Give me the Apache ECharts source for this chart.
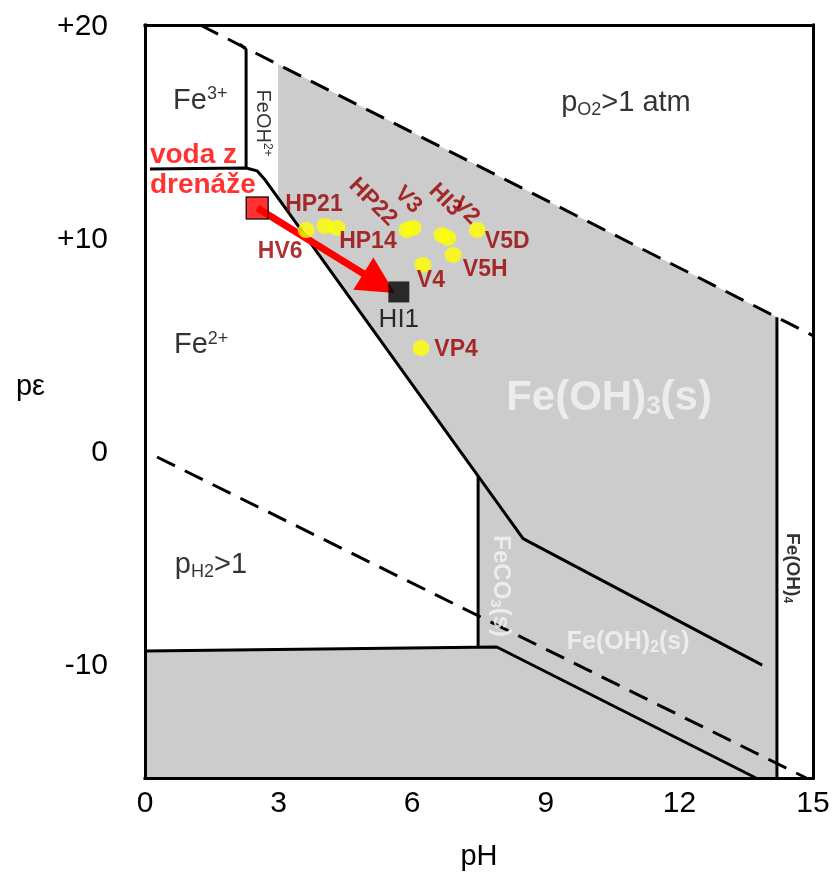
<!DOCTYPE html>
<html>
<head>
<meta charset="utf-8">
<title>Fe pe-pH</title>
<script src="https://cdn.jsdelivr.net/npm/echarts@6/dist/echarts.min.js"></script>
<style>
  html, body { margin: 0; padding: 0; background: #fff; }
  #chart { width: 833px; height: 878px; }
</style>
</head>
<body>
<div id="chart"></div>
<script>
/*global echarts*/
const FONT = '"Liberation Sans", Arial, sans-serif';

// axes
const phRange = [0, 15];
const peRange = [-15.3, 20.1];
const phInterval = 3;
const peTicks = [20, 10, 0, -10];

// field boundaries, [pH, pe]
const o2Line = [[1.24, 20.1], [15, 5.5]];
const h2Line = [[0.27, -0.21], [14.85, -15.3]];
const fe3FeohLine = [[2.13, 19.2], [2.27, 18.95], [2.27, 13.38]];
const fe3Fe2Line = [[0.11, 13.33], [2.27, 13.38], [2.52, 13.24], [2.7, 12.81], [8.49, -4.05], [13.86, -9.99]];
const feco3Line = [[7.48, -1.11], [7.48, -9.15]];
const fe2FeLine = [[0, -9.33], [7.9, -9.14], [13.72, -15.3]];
const feoh4Line = [[14.19, 6.36], [14.19, -15.3]];
const solidField = [[2.99, 18.25], [14.19, 6.36], [14.19, -15.3], [0, -15.3], [0, -9.33], [7.48, -9.15], [7.48, -1.11], [2.99, 11.95]];

// water samples
const sampleNames = ['HV6', 'HP21', 'HP14', 'HP22', 'V3', 'HI3', 'V2', 'V5D', 'V5H', 'V4', 'VP4'];
const samplePH = [3.62, 4.04, 4.31, 5.88, 6.02, 6.67, 6.80, 7.46, 6.92, 6.24, 6.20];
const samplePe = [10.46, 10.65, 10.56, 10.46, 10.56, 10.23, 10.09, 10.46, 9.29, 8.82, 4.91];

const drainPoint = [2.52, 11.5];
const hi1Point = [5.70, 7.55];
const arrowTip = [5.61, 7.5];

// field names
const fieldText = ['{n|Fe}{sup|3+}', '{n|Fe}{sup|2+}', '{n|p}{sub|O2}{n|>1 atm}', '{n|p}{sub|H2}{n|>1}'];
const fieldPH = [1.24, 1.26, 10.8, 1.48];
const fieldPe = [16.53, 5.05, 16.43, -5.29];

const solidText = ['{n|Fe(OH)}{sub|3}{n|(s)}', '{n|Fe(OH)}{sub|2}{n|(s)}'];
const solidPH = [10.42, 10.85];
const solidPe = [2.56, -8.91];

// label offset is rotated together with the label, so turn it back first
const labelPlace = (dx, dy, deg) => {
    const r = (deg || 0) * Math.PI / 180;
    const c = Math.cos(r);
    const s = Math.sin(r);
    return { offset: [dx * c - dy * s, dx * s + dy * c], rotate: deg || 0 };
};

const sampleLabelStyle = {
    HV6: labelPlace(-26, 22),
    HP21: labelPlace(-11, -21),
    HP14: labelPlace(31, 14),
    HP22: labelPlace(-34, -28, -45),
    V3: labelPlace(-5, -28, -45),
    HI3: labelPlace(3, -35, -45),
    V2: labelPlace(18, -27, -45),
    V5D: labelPlace(30, 12),
    V5H: labelPlace(32, 15),
    V4: labelPlace(8, 16),
    VP4: labelPlace(35, 2)
};

const richSet = (size, color, weight) => {
    const small = Math.round(size * 0.62);
    const base = { color, fontWeight: weight, fontFamily: FONT };
    return {
        n: { ...base, fontSize: size, lineHeight: size + 2 },
        sup: { ...base, fontSize: small, lineHeight: small, verticalAlign: 'top' },
        sub: { ...base, fontSize: small, lineHeight: small, verticalAlign: 'bottom' }
    };
};

const textSeries = (texts, xs, ys, opts) => ({
    type: 'scatter',
    symbolSize: 0,
    silent: true,
    z: 8,
    data: texts.map((t, i) => ({
        value: [xs[i], ys[i]],
        label: { formatter: () => t, rotate: opts.rotate || 0 }
    })),
    label: {
        show: true,
        position: 'inside',
        align: opts.align || 'center',
        verticalAlign: 'middle',
        rich: richSet(opts.size, opts.color, opts.weight || 'normal')
    }
});

const boundary = (points, dashed) => ({
    type: 'line',
    data: points,
    symbol: 'none',
    silent: true,
    z: 4,
    lineStyle: { color: '#000', width: 3, type: dashed ? [20, 11] : 'solid' }
});

const frameAxis = (pos) => ({
    position: pos,
    z: 10,
    axisLine: { show: true, onZero: false, lineStyle: { color: '#000', width: 3, cap: 'square' } },
    axisTick: { show: false },
    splitLine: { show: false },
    axisLabel: { show: false }
});

const getXAxisOpt = () => ([{
    ...frameAxis('bottom'),
    type: 'value',
    min: phRange[0],
    max: phRange[1],
    interval: phInterval,
    name: 'pH',
    nameLocation: 'middle',
    nameGap: 64,
    nameTextStyle: { fontSize: 29, color: '#000', fontFamily: FONT },
    axisLabel: { show: true, fontSize: 30, color: '#000', fontFamily: FONT, margin: 11 }
}, {
    ...frameAxis('top'),
    type: 'value',
    min: phRange[0],
    max: phRange[1]
}]);

const getYAxisOpt = () => ([{
    ...frameAxis('left'),
    type: 'value',
    min: peRange[0],
    max: peRange[1],
    name: 'pε',
    nameLocation: 'middle',
    nameRotate: 0,
    nameGap: 100,
    nameTextStyle: { fontSize: 29, color: '#000', fontFamily: FONT, verticalAlign: 'bottom' },
    axisLabel: {
        show: true,
        customValues: peTicks,
        formatter: v => (v > 0 ? '+' + v : String(v)),
        fontSize: 30,
        color: '#000',
        fontFamily: FONT,
        margin: 37
    }
}, {
    ...frameAxis('right'),
    type: 'value',
    min: peRange[0],
    max: peRange[1]
}]);

const arrowSeries = {
    type: 'custom',
    silent: true,
    z: 5,
    data: [[drainPoint[0], drainPoint[1], arrowTip[0], arrowTip[1]]],
    encode: { x: [0, 2], y: [1, 3] },
    renderItem: (params, api) => {
        const a = api.coord([api.value(0), api.value(1)]);
        const b = api.coord([api.value(2), api.value(3)]);
        const len = Math.hypot(b[0] - a[0], b[1] - a[1]);
        const ux = (b[0] - a[0]) / len;
        const uy = (b[1] - a[1]) / len;
        const headLen = 37;
        const headHalf = 19;
        const base = [b[0] - ux * headLen, b[1] - uy * headLen];
        return {
            type: 'group',
            children: [{
                type: 'line',
                shape: { x1: a[0], y1: a[1], x2: base[0] + ux * 4, y2: base[1] + uy * 4 },
                style: { stroke: '#ff0000', lineWidth: 7 }
            }, {
                type: 'polygon',
                shape: {
                    points: [b,
                        [base[0] - uy * headHalf, base[1] + ux * headHalf],
                        [base[0] + uy * headHalf, base[1] - ux * headHalf]]
                },
                style: { fill: '#ff0000' }
            }]
        };
    }
};

const fieldSeries = {
    type: 'custom',
    silent: true,
    z: 1,
    data: solidField,
    renderItem: (params, api) => {
        if (params.dataIndex !== 0) {
            return null;
        }
        return {
            type: 'polygon',
            shape: { points: solidField.map(p => api.coord(p)) },
            style: { fill: '#cccccc' }
        };
    }
};

const sampleSeries = {
    type: 'scatter',
    z: 6,
    symbol: 'circle',
    symbolSize: [17, 16],
    itemStyle: { color: '#ffff00' },
    data: sampleNames.map((name, i) => ({
        name,
        value: [samplePH[i], samplePe[i]],
        label: sampleLabelStyle[name]
    })),
    label: {
        show: true,
        position: 'inside',
        formatter: '{b}',
        color: '#990000',
        fontSize: 23,
        fontWeight: 'bold',
        fontFamily: FONT
    }
};

const squareSeries = {
    type: 'scatter',
    z: 7,
    symbol: 'rect',
    data: [{
        value: drainPoint,
        symbolSize: 22,
        itemStyle: { color: '#ff0000', borderColor: '#000', borderWidth: 1.5 }
    }, {
        name: 'HI1',
        value: hi1Point,
        symbolSize: 21,
        itemStyle: { color: '#000' },
        label: {
            show: true,
            position: 'bottom',
            distance: 4,
            formatter: '{b}',
            color: '#000',
            fontSize: 26,
            fontFamily: FONT
        }
    }]
};

const option = {
    animation: false,
    backgroundColor: '#fff',
    grid: { left: 145, right: 20, top: 25, bottom: 100 },
    xAxis: getXAxisOpt(),
    yAxis: getYAxisOpt(),
    series: [
        fieldSeries,
        boundary(o2Line, true),
        boundary(h2Line, true),
        boundary(fe3FeohLine),
        boundary(fe3Fe2Line),
        boundary(feco3Line),
        boundary(fe2FeLine),
        boundary(feoh4Line),
        arrowSeries,
        sampleSeries,
        squareSeries,
        textSeries(fieldText, fieldPH, fieldPe, { size: 29, color: '#000' }),
        textSeries(solidText.slice(0, 1), solidPH.slice(0, 1), solidPe.slice(0, 1), { size: 42, color: '#f4f4f4', weight: 'bold' }),
        textSeries(solidText.slice(1), solidPH.slice(1), solidPe.slice(1), { size: 25, color: '#f4f4f4', weight: 'bold' }),
        textSeries(['{n|FeCO}{sub|3}{n|(s)}'], [7.99], [-6.28], { size: 24, color: '#f4f4f4', weight: 'bold', rotate: -90 }),
        textSeries(['{n|FeOH}{sup|2+}'], [2.63], [15.49], { size: 20, color: '#000', rotate: -90 }),
        textSeries(['{n|Fe(OH)}{sub|4}'], [14.53], [-5.43], { size: 19, color: '#000', weight: 'bold', rotate: -90 }),
        textSeries(['{n|voda z}\n{n|drenáže}'], [0.11], [13.28], { size: 28, color: '#ff0000', weight: 'bold', align: 'left' })
    ]
};

const myChart = echarts.init(document.getElementById('chart'));
myChart.setOption(option);
</script>
</body>
</html>
